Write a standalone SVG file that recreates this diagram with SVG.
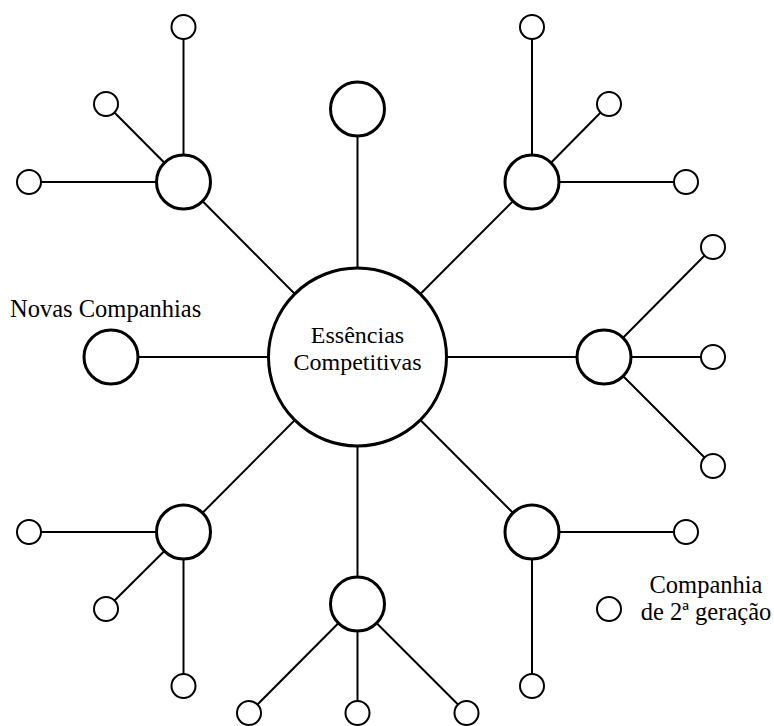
<svg xmlns="http://www.w3.org/2000/svg" width="774" height="726" viewBox="0 0 774 726">
<style>
.ln{stroke:#000;stroke-width:2;fill:none}
.c0{fill:#fff;stroke:#000;stroke-width:3}
.c1{fill:#fff;stroke:#000;stroke-width:3}
.c2{fill:#fff;stroke:#000;stroke-width:2}
.t{font-family:"Liberation Serif","Times New Roman",serif;fill:#000}
</style>
<rect width="774" height="726" fill="#fff"/>
<g id="connectors">
<line class="ln" x1="357.5" y1="357" x2="357.5" y2="109"/>
<line class="ln" x1="357.5" y1="357" x2="183.5" y2="182"/>
<line class="ln" x1="357.5" y1="357" x2="532" y2="182"/>
<line class="ln" x1="357.5" y1="357" x2="604" y2="357"/>
<line class="ln" x1="357.5" y1="357" x2="111" y2="357"/>
<line class="ln" x1="357.5" y1="357" x2="183.5" y2="532"/>
<line class="ln" x1="357.5" y1="357" x2="357.5" y2="604"/>
<line class="ln" x1="357.5" y1="357" x2="532" y2="532"/>
<line class="ln" x1="183.5" y1="182" x2="183.5" y2="27"/>
<line class="ln" x1="183.5" y1="182" x2="106" y2="104"/>
<line class="ln" x1="183.5" y1="182" x2="29" y2="182"/>
<line class="ln" x1="532" y1="182" x2="532" y2="27"/>
<line class="ln" x1="532" y1="182" x2="609" y2="104"/>
<line class="ln" x1="532" y1="182" x2="686" y2="182"/>
<line class="ln" x1="604" y1="357" x2="713" y2="247"/>
<line class="ln" x1="604" y1="357" x2="713" y2="357"/>
<line class="ln" x1="604" y1="357" x2="713" y2="466"/>
<line class="ln" x1="183.5" y1="532" x2="29" y2="532"/>
<line class="ln" x1="183.5" y1="532" x2="106" y2="609"/>
<line class="ln" x1="183.5" y1="532" x2="183.5" y2="686"/>
<line class="ln" x1="357.5" y1="604" x2="249" y2="713"/>
<line class="ln" x1="357.5" y1="604" x2="357.5" y2="713"/>
<line class="ln" x1="357.5" y1="604" x2="466.5" y2="713"/>
<line class="ln" x1="532" y1="532" x2="686" y2="532"/>
<line class="ln" x1="532" y1="532" x2="532" y2="686"/>
</g>
<g id="core">
<circle class="c0" cx="357.5" cy="357" r="89"/>
<text class="t" font-size="24" text-anchor="middle" x="357.5" y="343">Essências</text>
<text class="t" font-size="24" text-anchor="middle" x="357.5" y="370">Competitivas</text>
</g>
<g id="n-top"><circle class="c1" cx="357.5" cy="109" r="27"/></g>
<g id="n-tl"><circle class="c1" cx="183.5" cy="182" r="27"/></g>
<g id="n-tr"><circle class="c1" cx="532" cy="182" r="27"/></g>
<g id="n-right"><circle class="c1" cx="604" cy="357" r="27"/></g>
<g id="n-left"><circle class="c1" cx="111" cy="357" r="27"/></g>
<g id="n-bl"><circle class="c1" cx="183.5" cy="532" r="27"/></g>
<g id="n-bottom"><circle class="c1" cx="357.5" cy="604" r="27"/></g>
<g id="n-br"><circle class="c1" cx="532" cy="532" r="27"/></g>
<g id="s-tl1"><circle class="c2" cx="183.5" cy="27" r="12"/></g>
<g id="s-tl2"><circle class="c2" cx="106" cy="104" r="12"/></g>
<g id="s-tl3"><circle class="c2" cx="29" cy="182" r="12"/></g>
<g id="s-tr1"><circle class="c2" cx="532" cy="27" r="12"/></g>
<g id="s-tr2"><circle class="c2" cx="609" cy="104" r="12"/></g>
<g id="s-tr3"><circle class="c2" cx="686" cy="182" r="12"/></g>
<g id="s-r1"><circle class="c2" cx="713" cy="247" r="12"/></g>
<g id="s-r2"><circle class="c2" cx="713" cy="357" r="12"/></g>
<g id="s-r3"><circle class="c2" cx="713" cy="466" r="12"/></g>
<g id="s-bl1"><circle class="c2" cx="29" cy="532" r="12"/></g>
<g id="s-bl2"><circle class="c2" cx="106" cy="609" r="12"/></g>
<g id="s-bl3"><circle class="c2" cx="183.5" cy="686" r="12"/></g>
<g id="s-b1"><circle class="c2" cx="249" cy="713" r="12"/></g>
<g id="s-b2"><circle class="c2" cx="357.5" cy="713" r="12"/></g>
<g id="s-b3"><circle class="c2" cx="466.5" cy="713" r="12"/></g>
<g id="s-br1"><circle class="c2" cx="686" cy="532" r="12"/></g>
<g id="s-br2"><circle class="c2" cx="532" cy="686" r="12"/></g>
<g id="label-novas">
<text class="t" font-size="24.5" x="10" y="317">Novas Companhias</text>
</g>
<g id="legend">
<circle class="c2" cx="609" cy="609" r="12"/>
<text class="t" font-size="24.5" text-anchor="middle" x="706" y="593">Companhia</text>
<text class="t" font-size="24.5" text-anchor="middle" x="706" y="620">de 2ª geração</text>
</g>
</svg>
